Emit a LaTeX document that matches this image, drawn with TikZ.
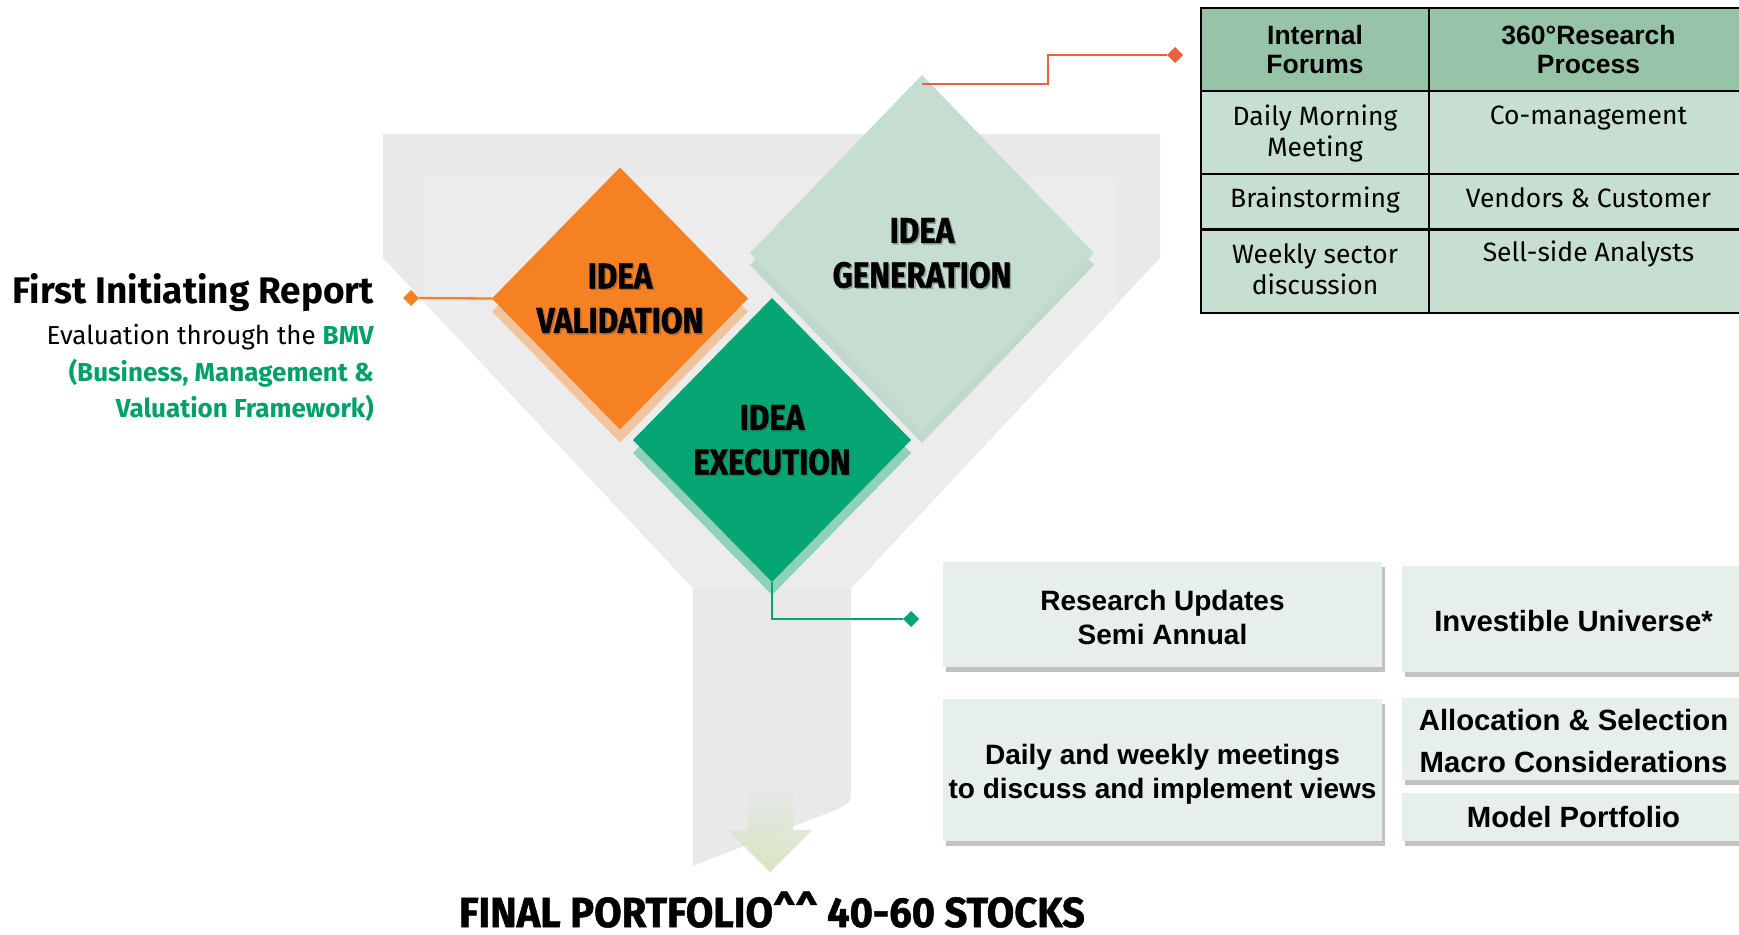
\documentclass[tikz,border=0pt]{standalone}
\usepackage{fontspec}
\setmainfont{Fira Sans}
\newfontfamily\arialfont{Liberation Sans}
\newfontfamily\condfont[FakeStretch=0.87, FakeBold=1.2]{Fira Sans}
\newfontfamily\titlefont[FakeStretch=0.95, FakeBold=1.2]{Fira Sans}
\usetikzlibrary{shapes.geometric,shadows,calc}

\definecolor{funnelgray}{HTML}{E9E9E9}
\definecolor{funnelinner}{HTML}{ECECEC}
\definecolor{genfill}{HTML}{C6DED1}
\definecolor{genshadow}{HTML}{C0D9CB}
\definecolor{valfill}{HTML}{F58123}
\definecolor{valshadow}{HTML}{F2C49E}
\definecolor{exefill}{HTML}{05A673}
\definecolor{exeshadow}{HTML}{8FD1BA}
\definecolor{redline}{HTML}{E9623C}
\definecolor{tblhead}{HTML}{97C4A8}
\definecolor{tblbody}{HTML}{C6DFD1}
\definecolor{boxfill}{HTML}{E6EFEA}
\definecolor{bmvgreen}{HTML}{00A06B}
\definecolor{arrowgreen}{HTML}{D1E2BB}

\begin{document}
\begin{tikzpicture}[x=1pt,y=-1pt,
  dia/.style={diamond, inner sep=0pt, outer sep=0pt},
  marker/.style={diamond, minimum width=16pt, minimum height=16pt, inner sep=0pt, outer sep=0pt},
  conn/.style={line width=2.3pt},
  lbl/.style={font=\condfont\bfseries\fontsize{36}{44.5}\selectfont, align=center, inner sep=0pt},
  lblsh/.style={lbl, text=black!70, opacity=0.35},
  tblhd/.style={font=\arialfont\bfseries\fontsize{26.5}{29.5}\selectfont, align=center, inner sep=0pt},
  tblcell/.style={font=\fontsize{26.5}{31}\selectfont, align=center, inner sep=0pt},
  tblline/.style={line width=2.6pt, black},
  box/.style={fill=boxfill, inner sep=0pt,
    drop shadow={shadow xshift=3pt, shadow yshift=-5pt, opacity=0.4, fill=black!60}},
  boxtxt/.style={inner sep=0pt, align=center, font=\arialfont\bfseries\fontsize{28}{34}\selectfont},
  boxtxtb/.style={inner sep=0pt, align=center, font=\arialfont\bfseries\fontsize{29.3}{42}\selectfont},
]
\useasboundingbox (0,0) rectangle (1739,934);
\clip (0,0) rectangle (1739,934);

% funnel
\fill[funnelgray] (383,134) -- (1160,134) -- (1160,258) -- (851,588) -- (851,786)
  .. controls (851,802) .. (838,809) -- (693,866) -- (693,588) -- (383,258) -- cycle;
\fill[funnelinner] (425,177) -- (1118,177) -- (1118,303) -- (851,588) -- (693,588) -- (425,303) -- cycle;

% arrow in stem
\shade[top color=funnelgray, bottom color=arrowgreen, opacity=0.9]
  (748,787) -- (793,787) -- (793,830) -- (812,830) -- (770,872) -- (728,830) -- (748,830) -- cycle;

% diamonds
\node[dia, fill=genshadow, minimum width=344pt, minimum height=356pt] (gen-sh) at (922,265) {};
\node[dia, fill=genfill, minimum width=344pt, minimum height=356pt] (gen) at (922,253) {};
\node[dia, fill=valshadow, minimum width=256pt, minimum height=262pt] (val-sh) at (620,311.5) {};
\node[dia, fill=valfill, minimum width=256pt, minimum height=262pt] (val) at (620,298.5) {};
\node[dia, fill=exeshadow, minimum width=278pt, minimum height=284pt] (exe-sh) at (772,453) {};
\node[dia, fill=exefill, minimum width=278pt, minimum height=284pt] (exe) at (772,440) {};

% diamond labels
\node[lblsh] at ($(gen)+(1.5,1.5)$) {IDEA\\GENERATION};
\node[lbl] (gen-l) at (gen) {IDEA\\GENERATION};
\node[lblsh] at ($(val)+(1.5,1.5)$) {IDEA\\VALIDATION};
\node[lbl] (val-l) at (val) {IDEA\\VALIDATION};
\node[lblsh] at ($(exe)+(1.5,1.5)$) {IDEA\\EXECUTION};
\node[lbl] (exe-l) at (exe) {IDEA\\EXECUTION};

% connectors
\coordinate (gen-c) at (922,84);
\node[marker, fill=redline] (m-red) at (1175,55) {};
\draw[conn, redline] (gen-c) -- ++(126,0) |- (m-red);

\node[marker, fill=valfill] (m-org) at (411,298) {};
\draw[conn, valfill] (val.west) -- (m-org);

\node[marker, fill=exefill] (m-grn) at (911,619) {};
\draw[conn, exefill] (exe.south) |- (m-grn);

% table
\fill[tblhead] (1201,8) rectangle (1760,91);
\fill[tblbody] (1201,91) rectangle (1760,313);
\draw[tblline] (1201,8) rectangle (1760,313);
\draw[tblline] (1201,91) -- (1760,91);
\draw[tblline] (1201,174) -- (1760,174);
\draw[tblline] (1201,229.5) -- (1760,229.5);
\draw[tblline] (1429,8) -- (1429,313);

\node[tblhd] (h1) at (1315,49.5) {Internal\\Forums};
\node[tblhd] (h2) at (1588.5,49.5) {360°Research\\Process};
\node[tblcell] (c11) at (1315,133) {Daily Morning\\Meeting};
\node[tblcell, anchor=base] (c12) at (1588.5,124) {Co-management};
\node[tblcell, anchor=base] (c21) at (1315,207.3) {Brainstorming};
\node[tblcell, anchor=base] (c22) at (1588.5,207.3) {Vendors \& Customer};
\node[tblcell] (c31) at (1315,269) {Weekly sector\\discussion};
\node[tblcell, anchor=base] (c32) at (1588.5,261.7) {Sell-side Analysts};

% left text
\node[anchor=base east, inner sep=0pt, font=\bfseries\fontsize{37}{40}\selectfont] (fir) at (374,303.3) {First Initiating Report};
\node[align=right, inner sep=0pt, anchor=east, font=\fontsize{26}{36.7}\selectfont] (bmv) at (374,373)
  {Evaluation through the \textcolor{bmvgreen}{\bfseries BMV}\\
   \textcolor{bmvgreen}{\bfseries (Business, Management \&}\\
   \textcolor{bmvgreen}{\bfseries Valuation Framework)}};

% boxes
\node[box, minimum width=439pt, minimum height=105pt] (b1) at (1162.5,614.5) {};
\node[box, minimum width=343pt, minimum height=105.7pt] (b2) at (1573.5,618.9) {};
\node[box, minimum width=439pt, minimum height=142pt] (b3) at (1162.5,769.5) {};
\node[box, minimum width=343pt, minimum height=81.5pt] (b4) at (1573.5,739.2) {};
\node[box, minimum width=343pt, minimum height=48pt] (b5) at (1573.5,816.5) {};

\node[boxtxt] (t1) at (1162.5,617) {Research Updates\\Semi Annual};
\node[boxtxtb] (t2) at (1573.5,621) {Investible Universe*};
\node[boxtxt] (t3) at (1162.5,774) {Daily and weekly meetings\\to discuss and implement views};
\node[boxtxtb] (t4) at (1573.5,741.5) {Allocation \& Selection\\Macro Considerations};
\node[boxtxtb] (t5) at (1573.5,817.5) {Model Portfolio};

% bottom title
\node[anchor=base, inner sep=0pt, font=\titlefont\bfseries\fontsize{42}{42}\selectfont] (final) at (772,927)
  {FINAL PORTFOLIO\textasciicircum\textasciicircum{} 40-60 STOCKS};
\end{tikzpicture}
\end{document}
